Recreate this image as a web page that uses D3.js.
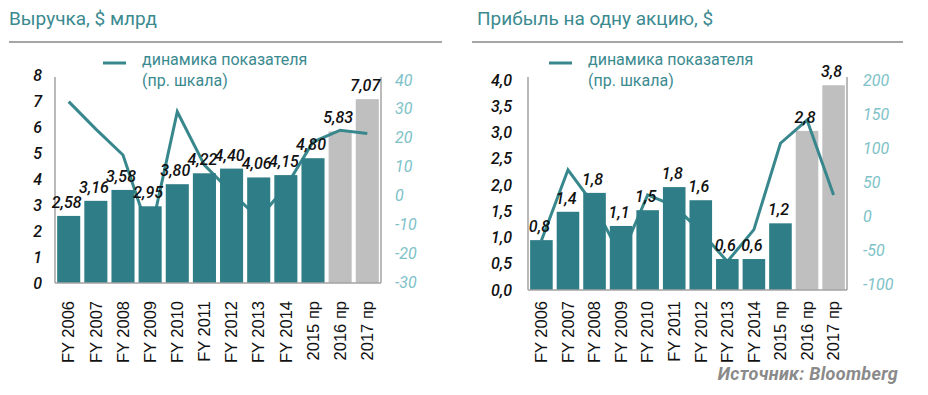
<!DOCTYPE html>
<html><head><meta charset="utf-8">
<script src="https://cdn.jsdelivr.net/npm/d3@7"></script>
<style>
html,body{margin:0;padding:0;background:#fff;}
svg{display:block;}
</style></head>
<body>
<svg id="chart" width="928" height="395"></svg>
<script>
const categories = ["FY 2006","FY 2007","FY 2008","FY 2009","FY 2010","FY 2011","FY 2012","FY 2013","FY 2014","2015 пр","2016 пр","2017 пр"];
const forecast = [0,0,0,0,0,0,0,0,0,0,1,1];

const revenue = [2.58,3.16,3.58,2.95,3.80,4.22,4.40,4.06,4.15,4.80,5.83,7.07];
const revenueLabels = ["2,58","3,16","3,58","2,95","3,80","4,22","4,40","4,06","4,15","4,80","5,83","7,07"];
const revenueGrowth = [32.5,23,14,-14,29,10.5,1,-8,3,18.5,22.6,21.5];
const revenueTicks = [0,1,2,3,4,5,6,7,8];
const revenueGrowthTicks = [-30,-20,-10,0,10,20,30,40];

const eps = [0.95,1.49,1.85,1.22,1.52,1.96,1.71,0.59,0.59,1.27,3.03,3.90];
const epsLabels = ["0,8","1,4","1,8","1,1","1,5","1,8","1,6","0,6","0,6","1,2","2,8","3,8"];
const epsGrowth = [-36,68,15,-60,31,15,-23,-67,-20,107,141,31];
const epsTicks = [0,0.5,1,1.5,2,2.5,3,3.5,4];
const epsGrowthTicks = [-100,-50,0,50,100,150,200];

const titles = ["Выручка, $ млрд","Прибыль на одну акцию, $"];
const legendLines = ["динамика показателя","(пр. шкала)"];
const sourceText = "Источник: Bloomberg";

const TEAL = "#2f7d86", LINE = "#37878d", GREY = "#bfbfbf", TITLE = "#3b8a8f", RLAB = "#7ec2c8", FRAME = "#a3a3a3";
const svg = d3.select("#chart");
const comma = f => v => d3.format(f)(v).replace(".", ",");

function panel(cfg){
  const g = svg.append("g");
  g.append("text").attr("x", cfg.titleX).attr("y", 25).text(cfg.title)
    .attr("font-family","Roboto").attr("font-size",19).attr("fill",TITLE);
  g.append("line").attr("x1", cfg.sepX0).attr("x2", cfg.sepX1).attr("y1",42).attr("y2",42)
    .attr("stroke","#a6a6a6").attr("stroke-width",2);
  g.append("line").attr("x1", cfg.legX).attr("x2", cfg.legX+23).attr("y1",63).attr("y2",63)
    .attr("stroke",LINE).attr("stroke-width",3);
  legendLines.forEach((t,i)=> g.append("text").attr("x", cfg.legX+39).attr("y", 65+i*21).text(t)
    .attr("font-family","Roboto").attr("font-size",16).attr("fill",TITLE));

  const x = d3.scaleBand().domain(categories).range([cfg.x0, cfg.x1]).paddingInner(0.15).paddingOuter(0.08);
  const yL = d3.scaleLinear().domain(cfg.yLDomain).range([cfg.yBottom, cfg.yLTop]);
  const yR = d3.scaleLinear().domain(cfg.yRDomain).range(cfg.yRRange);

  const bar = sel => sel.attr("x",(d,i)=> x(categories[d.i])).attr("width", x.bandwidth())
    .attr("y", d=> yL(d.v)).attr("height", d=> cfg.yBottom - yL(d.v));
  const items = cfg.values.map((v,i)=>({v,i}));

  // forecast (grey) bars first
  g.selectAll("rect.fc").data(items.filter(d=>forecast[d.i])).join("rect").attr("class","fc")
    .call(bar).attr("fill",GREY);

  // growth line
  const line = d3.line().x((d,i)=> x(categories[i]) + x.bandwidth()/2).y(d=> yR(d));
  g.append("path").datum(cfg.growth).attr("d", line).attr("fill","none")
    .attr("stroke",LINE).attr("stroke-width",3).attr("stroke-linejoin","miter");

  // actual (teal) bars over the line
  g.selectAll("rect.act").data(items.filter(d=>!forecast[d.i])).join("rect").attr("class","act")
    .call(bar).attr("fill",TEAL);

  // frame
  g.append("line").attr("x1",cfg.x0).attr("x2",cfg.x0).attr("y1",cfg.frameTop).attr("y2",cfg.yBottom).attr("stroke",FRAME).attr("stroke-width",1.5);
  g.append("line").attr("x1",cfg.x1).attr("x2",cfg.x1).attr("y1",cfg.frameTop).attr("y2",cfg.yBottom).attr("stroke",FRAME).attr("stroke-width",1.5);
  g.append("line").attr("x1",cfg.x0).attr("x2",cfg.x1).attr("y1",cfg.yBottom).attr("y2",cfg.yBottom).attr("stroke",FRAME).attr("stroke-width",1.5);

  const axL = g.append("g").attr("transform",`translate(${cfg.x0},0)`)
    .call(d3.axisLeft(yL).tickValues(cfg.yLTicks).tickSize(0).tickPadding(cfg.lPad).tickFormat(cfg.lFmt));
  axL.select(".domain").remove();
  axL.selectAll("text").attr("font-family","Roboto").attr("font-size",16).attr("font-style","italic")
    .attr("font-weight",500).attr("fill","#111");
  const axR = g.append("g").attr("transform",`translate(${cfg.x1},0)`)
    .call(d3.axisRight(yR).tickValues(cfg.yRTicks).tickSize(0).tickPadding(cfg.rPad).tickFormat(d=>String(d)));
  axR.select(".domain").remove();
  axR.selectAll("text").attr("font-family","Roboto").attr("font-size",16).attr("font-style","italic")
    .attr("fill",RLAB);
  const axB = g.append("g").attr("transform",`translate(0,${cfg.yBottom})`)
    .call(d3.axisBottom(x).tickSize(0));
  axB.select(".domain").remove();
  axB.selectAll("text").attr("transform","rotate(-90)").attr("x", -(301-cfg.yBottom)).attr("y",0)
    .attr("dy","0.35em").attr("text-anchor","end")
    .attr("font-family","Liberation Sans, Arial").attr("font-size",16.5).attr("fill","#111");

  g.selectAll("text.lab").data(cfg.values).join("text").attr("class","lab")
    .attr("x",(d,i)=> x(categories[i]) + x.bandwidth()/2 - 2).attr("y", d=> yL(d) - 8)
    .attr("text-anchor","middle").text((d,i)=> cfg.labels[i])
    .attr("font-family","Roboto").attr("font-size",16).attr("font-style","italic").attr("font-weight",500).attr("fill","#111");
}

panel({
  title: titles[0], titleX: 9, sepX0: 9, sepX1: 442, legX: 103,
  x0: 55, x1: 381, yBottom: 283, yLTop: 75, frameTop: 77,
  yLDomain: [0,8], yRDomain: [-30,40], yRRange: [282,80],
  yLTicks: revenueTicks, yRTicks: revenueGrowthTicks,
  lPad: 13, rPad: 14, lFmt: d3.format("d"),
  values: revenue, labels: revenueLabels, growth: revenueGrowth
});
panel({
  title: titles[1], titleX: 477, sepX0: 472, sepX1: 903, legX: 549,
  x0: 528, x1: 847, yBottom: 290, yLTop: 80, frameTop: 77,
  yLDomain: [0,4], yRDomain: [-100,200], yRRange: [284,80],
  yLTicks: epsTicks, yRTicks: epsGrowthTicks,
  lPad: 16, rPad: 16, lFmt: comma(".1f"),
  values: eps, labels: epsLabels, growth: epsGrowth
});

svg.append("text").attr("x",898).attr("y",380).attr("text-anchor","end").text(sourceText)
  .attr("font-family","Roboto").attr("font-size",18).attr("font-style","italic").attr("font-weight",700)
  .attr("letter-spacing",0.3).attr("fill","#8a8a8a");
</script>
</body></html>
